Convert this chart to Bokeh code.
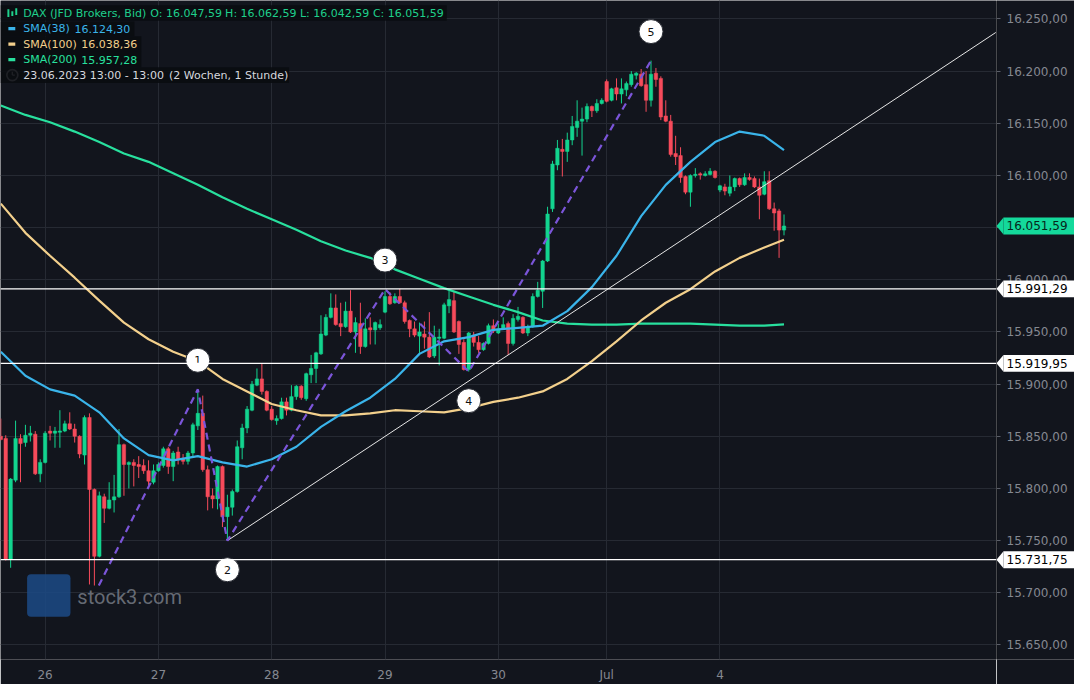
from bokeh.plotting import figure
from bokeh.layouts import row
from bokeh.models import (Range1d, FixedTicker, CustomJSTickFormatter, Span, Label,
                          BoxAnnotation, ColumnDataSource, LinearAxis)
from bokeh.core.properties import value
from bokeh.embed import file_html
from bokeh.resources import INLINE

# ---------------- data ----------------
opens = [15850, 15848, 15732, 15808, 15848, 15844, 15851, 15852, 15814, 15825,
         15855, 15853, 15854, 15855, 15862, 15857, 15850, 15832, 15868, 15799,
         15735, 15792, 15781, 15789, 15792, 15842, 15823, 15825, 15823, 15822,
         15817, 15806, 15817, 15822, 15838, 15821, 15835, 15829, 15826, 15834,
         15860, 15872, 15818, 15793, 15790, 15821, 15773, 15782, 15797, 15839,
         15858, 15875, 15899, 15905, 15893, 15876, 15865, 15867, 15883, 15875,
         15888, 15898, 15886, 15909, 15915, 15929, 15947, 15964, 15973, 15958,
         15955, 15970, 15950, 15958, 15936, 15954, 15952, 15954, 15969, 15984,
         15978, 15984, 15978, 15961, 15953, 15946, 15948, 15945, 15927, 15944,
         15944, 15975, 15980, 15960, 15940, 15914, 15947, 15940, 15933, 15939,
         15956, 15949, 15953, 15958, 15939, 15962, 15964, 15949, 15955, 15984,
         15989, 16018, 16068, 16110, 16125, 16123, 16134, 16146, 16152, 16154,
         16166, 16162, 16169, 16190, 16172, 16184, 16178, 16182, 16187, 16196,
         16197, 16187, 16172, 16198, 16193, 16157, 16152, 16121, 16119, 16099,
         16084, 16100, 16101.5, 16100, 16101, 16104, 16086, 16089, 16083, 16089,
         16097, 16091, 16098, 16097, 16089, 16082, 16095, 16068, 16066, 16047.59]
highs = [15867, 15851, 15810, 15865, 15852, 15861, 15860, 15855, 15828, 15855,
         15860, 15859, 15875, 15865, 15873, 15862, 15851, 15870, 15872, 15800,
         15797, 15795, 15806, 15813, 15857, 15843, 15826, 15828, 15831, 15828,
         15827, 15823, 15825, 15840, 15840, 15836, 15840, 15833, 15836, 15863,
         15895, 15889, 15822, 15800, 15822, 15822, 15794, 15799, 15846, 15862,
         15879, 15903, 15915, 15920, 15894, 15879, 15870, 15887, 15887, 15899,
         15899, 15899, 15911, 15928, 15931, 15966, 15967, 15987, 15986, 15978,
         15979, 15990, 15964, 15978, 15963, 15964, 15960, 15962, 15989, 15988,
         15987, 15991.29, 15980, 15962, 15960, 15959, 15960, 15969, 15956, 15953,
         15978, 15990, 15989, 15961, 15943, 15950, 15950, 15946, 15940, 15958,
         15962, 15958, 15964, 15960, 15967, 15974, 15965, 15957, 15987, 15998,
         16019, 16070, 16114, 16134, 16135, 16141, 16157, 16172, 16165, 16169,
         16167, 16173, 16174, 16192, 16184, 16193, 16193, 16190, 16200, 16199,
         16202, 16200, 16210, 16203, 16195, 16172, 16158, 16138, 16127, 16100,
         16101, 16107, 16103, 16104, 16107, 16105, 16091, 16092, 16100, 16098,
         16098, 16102, 16102, 16099, 16097, 16104, 16104, 16074, 16068, 16062.59]
lows = [15846, 15731, 15724, 15806, 15806, 15840, 15845, 15813, 15806, 15824,
        15846, 15839, 15839, 15854, 15856, 15844, 15829, 15823, 15708, 15707,
        15734, 15767, 15780, 15777, 15791, 15793, 15800, 15802, 15810, 15814,
        15803, 15804, 15816, 15820, 15814, 15807, 15823, 15823, 15823, 15831,
        15856, 15816, 15779, 15781, 15780, 15763, 15750, 15774, 15796, 15828,
        15853, 15874, 15898, 15890, 15874, 15865, 15861, 15866, 15870, 15874,
        15885, 15885, 15884, 15901, 15901, 15928, 15946, 15963, 15956, 15946,
        15954, 15949, 15930, 15929, 15935, 15938, 15938, 15952, 15968, 15976,
        15977, 15977, 15958, 15945, 15945, 15929, 15934, 15925, 15925, 15918,
        15943, 15968, 15949, 15929, 15913, 15912, 15936, 15930, 15932, 15938,
        15949, 15948, 15952, 15928, 15937, 15960, 15948, 15946, 15954, 15983,
        15973, 16017, 16065, 16105, 16099, 16113, 16129, 16137, 16119, 16151,
        16156, 16160, 16168, 16170, 16171, 16172, 16169, 16176, 16185, 16192,
        16185, 16161, 16166, 16185, 16153, 16151, 16118, 16110, 16093, 16082,
        16070, 16098, 16096, 16099, 16100, 16097, 16084, 16081, 16080, 16085,
        16089, 16090, 16095, 16088, 16058, 16081, 16067, 16047, 16021, 16042.59]
closes = [15847, 15732, 15809, 15848, 15843, 15851, 15853, 15814, 15825, 15853,
          15853, 15855, 15855, 15862, 15857, 15850, 15833, 15868, 15799, 15735,
          15793, 15781, 15789, 15792, 15842, 15823, 15825, 15822, 15821, 15817,
          15807, 15817, 15823, 15838, 15821, 15834, 15828, 15826, 15834, 15861,
          15872, 15818, 15792, 15790, 15821, 15773, 15782, 15797, 15840, 15858,
          15876, 15900, 15905, 15893, 15875, 15866, 15867, 15883, 15875, 15888,
          15898, 15887, 15910, 15915, 15930, 15948, 15964, 15973, 15957, 15955,
          15970, 15950, 15959, 15936, 15953, 15952, 15959, 15957, 15984, 15977,
          15984, 15978, 15960, 15953, 15947, 15950, 15945, 15926, 15945, 15945,
          15976, 15981, 15950, 15938, 15914, 15949, 15940, 15933, 15939, 15956,
          15951, 15953, 15957, 15939, 15963, 15965, 15949, 15955, 15984, 15990,
          16018, 16063, 16111, 16126, 16123, 16134, 16147, 16152, 16154, 16166,
          16162, 16169, 16172, 16171, 16183, 16178, 16183, 16188, 16197, 16198,
          16186, 16172, 16197, 16192, 16156, 16152, 16120, 16118, 16098, 16084,
          16100, 16101, 16100.5, 16101.5, 16104, 16098, 16090, 16085, 16089, 16097,
          16091, 16098, 16096, 16089, 16081, 16094, 16068, 16064, 16047.59, 16051.59]

day_ticks = [9, 32, 55, 78, 101, 123, 146]
day_labels = ["26", "27", "28", "29", "30", "Jul", "4"]

sma_x = [0, 5, 10, 15, 20, 25, 30, 35, 40, 45, 50, 55, 60, 65, 70, 75, 80,
         85, 90, 95, 100, 105, 110, 115, 120, 125, 130, 135, 140, 145, 150, 155, 159]
sma38 = [15931, 15908, 15895, 15889, 15873, 15848, 15832, 15827, 15831, 15825, 15821,
         15828, 15840, 15859, 15874, 15887, 15905, 15929, 15941, 15945, 15952, 15954,
         15956, 15970, 15993, 16023, 16061, 16091, 16113, 16132, 16142, 16138, 16124.30]
sma100 = [16073, 16045, 16023, 16002, 15980, 15959, 15943, 15931, 15922, 15905, 15893,
          15881, 15875, 15870, 15870, 15872, 15875, 15874, 15873, 15877, 15883, 15887,
          15893, 15905, 15922, 15941, 15961, 15978, 15991, 16008, 16021, 16031, 16038.36]
sma200 = [16167, 16158, 16151, 16142, 16132, 16121, 16113, 16102, 16091, 16079, 16068,
          16058, 16048, 16037, 16028, 16021, 16010, 16001, 15992, 15984, 15976, 15969,
          15961, 15958, 15957, 15957, 15958, 15958, 15958, 15957, 15956, 15956, 15957.28]

wave_x = [19.9, 40, 46, 78, 95, 132]
wave_y = [15707, 15895, 15750, 15991, 15912, 16210]
wave_names = ["1", "2", "3", "4", "5"]

trend_x = [46, 202]
trend_y = [15750, 16237]

level_lines = [15991.29, 15919.95, 15731.75]
price_ticks = list(range(15650, 16251, 50))

# ---------------- styling / geometry ----------------
BG = "#12151d"
GRID = "#262a33"
GREEN = "#13d48f"
RED = "#f64b5b"
C38 = "#3ab4ea"
C100 = "#f3d08c"
C200 = "#28e09e"
AXIS_TXT = "#858891"

W, H = 1074, 684
AX_R, AX_B = 78, 20
MAIN_W = W - AX_R
X0, X1 = -0.06, 202.14
Y_TOP, Y_BOT = 16267.65, 15636.1
REF_W, REF_H = 1011.0, 680.0
PX_PER_PT = (H - AX_B) / (Y_TOP - Y_BOT)


def rx(px):
    return X0 + px * (X1 - X0) / REF_W


def ry(py):
    return Y_TOP - py * (Y_TOP - Y_BOT) / REF_H


def de(v):
    s = f"{v:,.2f}"
    return s.replace(",", "X").replace(".", ",").replace("X", ".")


fmt = CustomJSTickFormatter(code="""
const s = tick.toFixed(2).split('.');
return s[0].replace(/\\B(?=(\\d{3})+(?!\\d))/g, '.') + ',' + s[1];
""")

# ================= main chart =================
p = figure(width=MAIN_W, height=H, output_backend="svg", toolbar_location=None,
           x_range=Range1d(X0, X1), y_range=Range1d(Y_BOT, Y_TOP),
           y_axis_location=None, min_border_left=0, min_border_top=0,
           min_border_right=0, min_border_bottom=AX_B)
p.background_fill_color = BG
p.border_fill_color = BG
p.outline_line_color = None

xax = p.xaxis[0]
xax.ticker = FixedTicker(ticks=day_ticks)
xax.major_label_overrides = {t: l for t, l in zip(day_ticks, day_labels)}
xax.axis_line_color = None
xax.major_tick_line_color = None
xax.minor_tick_line_color = None
xax.major_label_text_color = AXIS_TXT
xax.major_label_text_font = "DejaVu Sans"
xax.major_label_text_font_size = "12px"
xax.major_label_standoff = 2

p.xgrid.grid_line_color = GRID
p.ygrid.ticker = FixedTicker(ticks=price_ticks)
p.ygrid.grid_line_color = GRID

# ---------------- watermark ----------------
p.add_layout(BoxAnnotation(left=rx(27), right=rx(71), top=ry(592), bottom=ry(636),
                           fill_color="#1c4a86", fill_alpha=0.85, line_color=None,
                           border_radius=4, level="underlay"))
p.add_layout(Label(x=rx(78), y=ry(615), text="stock3.com", text_font="Roboto",
                   text_font_size="20px", text_color="#7d828c", text_alpha=0.8,
                   text_baseline="middle", level="underlay"))

# ---------------- candles ----------------
idx = list(range(len(opens)))
tops, bots, cols = [], [], []
for o, c in zip(opens, closes):
    hi_b, lo_b = max(o, c), min(o, c)
    if hi_b - lo_b < 1.2:
        mid = (hi_b + lo_b) / 2
        hi_b, lo_b = mid + 0.6, mid - 0.6
    tops.append(hi_b)
    bots.append(lo_b)
    cols.append(GREEN if c >= o else RED)
src = ColumnDataSource(dict(x=idx, h=highs, l=lows, top=tops, bot=bots, col=cols))
p.segment(x0="x", y0="h", x1="x", y1="l", color="col", line_width=1, source=src)
p.vbar(x="x", width=0.7, top="top", bottom="bot", fill_color="col",
       line_color="col", line_width=0.5, source=src)

# ---------------- moving averages ----------------
p.line(sma_x, sma200, line_color=C200, line_width=2.2)
p.line(sma_x, sma100, line_color=C100, line_width=2.2)
p.line(sma_x, sma38, line_color=C38, line_width=2.2)

# ---------------- lines ----------------
for lv in level_lines:
    p.add_layout(Span(location=lv, dimension="width", line_color="white", line_width=1.2))
p.line(trend_x, trend_y, line_color="#e6e6e6", line_width=1)
p.line(wave_x, wave_y, line_color="#7b55d9", line_width=2.2, line_dash="7 5")

# wave labels
lab_x, lab_y = [], []
off = 30 * (Y_TOP - Y_BOT) / REF_H
for k in range(1, len(wave_x)):
    up = wave_y[k] > wave_y[k - 1]
    lab_x.append(wave_x[k])
    lab_y.append(wave_y[k] + off if up else wave_y[k] - off)
p.scatter(lab_x, lab_y, size=24, marker="circle", fill_color="white",
          line_color="#2a2d35", line_width=1)
p.text(lab_x, lab_y, text=wave_names, text_align="center", text_baseline="middle",
       text_font=value("DejaVu Sans"), text_font_size="11px", text_color="#111111")

# ---------------- legend (top-left) ----------------
rows = [(5, 21, 453), (21.7, 37, 136), (37, 53, 143), (53, 69, 143), (69, 85, 293)]
for t, b, r in rows:
    p.add_layout(BoxAnnotation(left=rx(0), right=rx(r), top=ry(t), bottom=ry(b),
                               fill_color="#0a0c11", fill_alpha=0.9, line_color=None))


def txt(px, py, s, col):
    p.add_layout(Label(x=rx(px), y=ry(py), text=s, text_font="DejaVu Sans",
                       text_font_size="11px", text_color=col, text_baseline="middle"))


LG = "#1fd08c"
for (l, r, t, b) in [(7, 9, 9, 17), (11, 13, 11, 16), (15, 17, 8, 15)]:
    p.add_layout(BoxAnnotation(left=rx(l), right=rx(r), top=ry(t), bottom=ry(b),
                               fill_color=LG, fill_alpha=1, line_color=None))
txt(23, 13.5, "DAX (JFD Brokers, Bid)", LG)
txt(152, 13.5, "O: " + de(opens[-1]), LG)
txt(228, 13.5, "H: " + de(highs[-1]), LG)
txt(304, 13.5, "L: " + de(lows[-1]), LG)
txt(378, 13.5, "C: " + de(closes[-1]), LG)

for (cy, name, vx, val, col) in [(29, "SMA(38)", 75, sma38[-1], C38),
                                 (45, "SMA(100)", 82, sma100[-1], C100),
                                 (61, "SMA(200)", 82, sma200[-1], C200)]:
    p.add_layout(BoxAnnotation(left=rx(8), right=rx(15), top=ry(cy - 1.7), bottom=ry(cy + 1.7),
                               fill_color=col, fill_alpha=1, line_color=None))
    txt(23, cy, name, col)
    txt(vx, cy, de(val), col)

p.scatter([rx(12)], [ry(77)], size=11, marker="circle", fill_color=None,
          line_color="#d6d8de", line_width=1.6)
p.segment(x0=[rx(12), rx(12)], y0=[ry(77), ry(77)], x1=[rx(12), rx(14.5)],
          y1=[ry(73.5), ry(77)], line_color="#d6d8de", line_width=1.3)
txt(23, 77, "23.06.2023 13:00 - 13:00", "#d6d8de")
txt(171, 77, "(2 Wochen, 1 Stunde)", "#d6d8de")

# ================= price axis strip =================
side = figure(width=AX_R, height=H, output_backend="svg", toolbar_location=None,
              x_range=Range1d(0, AX_R), y_range=p.y_range,
              x_axis_location=None, y_axis_location=None,
              min_border_left=0, min_border_right=0, min_border_top=0,
              min_border_bottom=AX_B)
side.background_fill_color = BG
side.border_fill_color = BG
side.outline_line_color = None
side.xgrid.visible = False
side.ygrid.visible = False

yax = LinearAxis(fixed_location=0, ticker=FixedTicker(ticks=price_ticks), formatter=fmt,
                 axis_line_color="#0a0c11", axis_line_width=1.5,
                 major_tick_line_color="#5a5e68", major_tick_out=4, major_tick_in=0,
                 minor_tick_line_color=None, major_label_standoff=6,
                 major_label_text_color=AXIS_TXT, major_label_text_font="DejaVu Sans",
                 major_label_text_font_size="12px")
side.add_layout(yax, "right")

# price tags (arrow + box + value) drawn above the axis labels
half = 8.5 / PX_PER_PT
tag_levels = level_lines + [closes[-1]]
tag_fill = ["#ffffff"] * len(level_lines) + ["#14d99b"]
tag_text = ["#000000"] * len(level_lines) + ["#06261a"]
side.patches(xs=[[0, 7, 7] for _ in tag_levels],
             ys=[[lv, lv + half, lv - half] for lv in tag_levels],
             fill_color=tag_fill, line_color=None, level="annotation")
side.quad(left=[7] * len(tag_levels), right=[AX_R + 1] * len(tag_levels),
          bottom=[lv - half for lv in tag_levels], top=[lv + half for lv in tag_levels],
          fill_color=tag_fill, line_color=None, level="annotation")
side.text(x=[10] * len(tag_levels), y=tag_levels, text=[de(v) for v in tag_levels],
          text_color=tag_text, text_baseline="middle", text_align="left",
          text_font=value("DejaVu Sans"), text_font_size="12px", level="annotation")

layout = row(p, side, spacing=0)
open("out.html", "w").write(file_html(layout, INLINE))
